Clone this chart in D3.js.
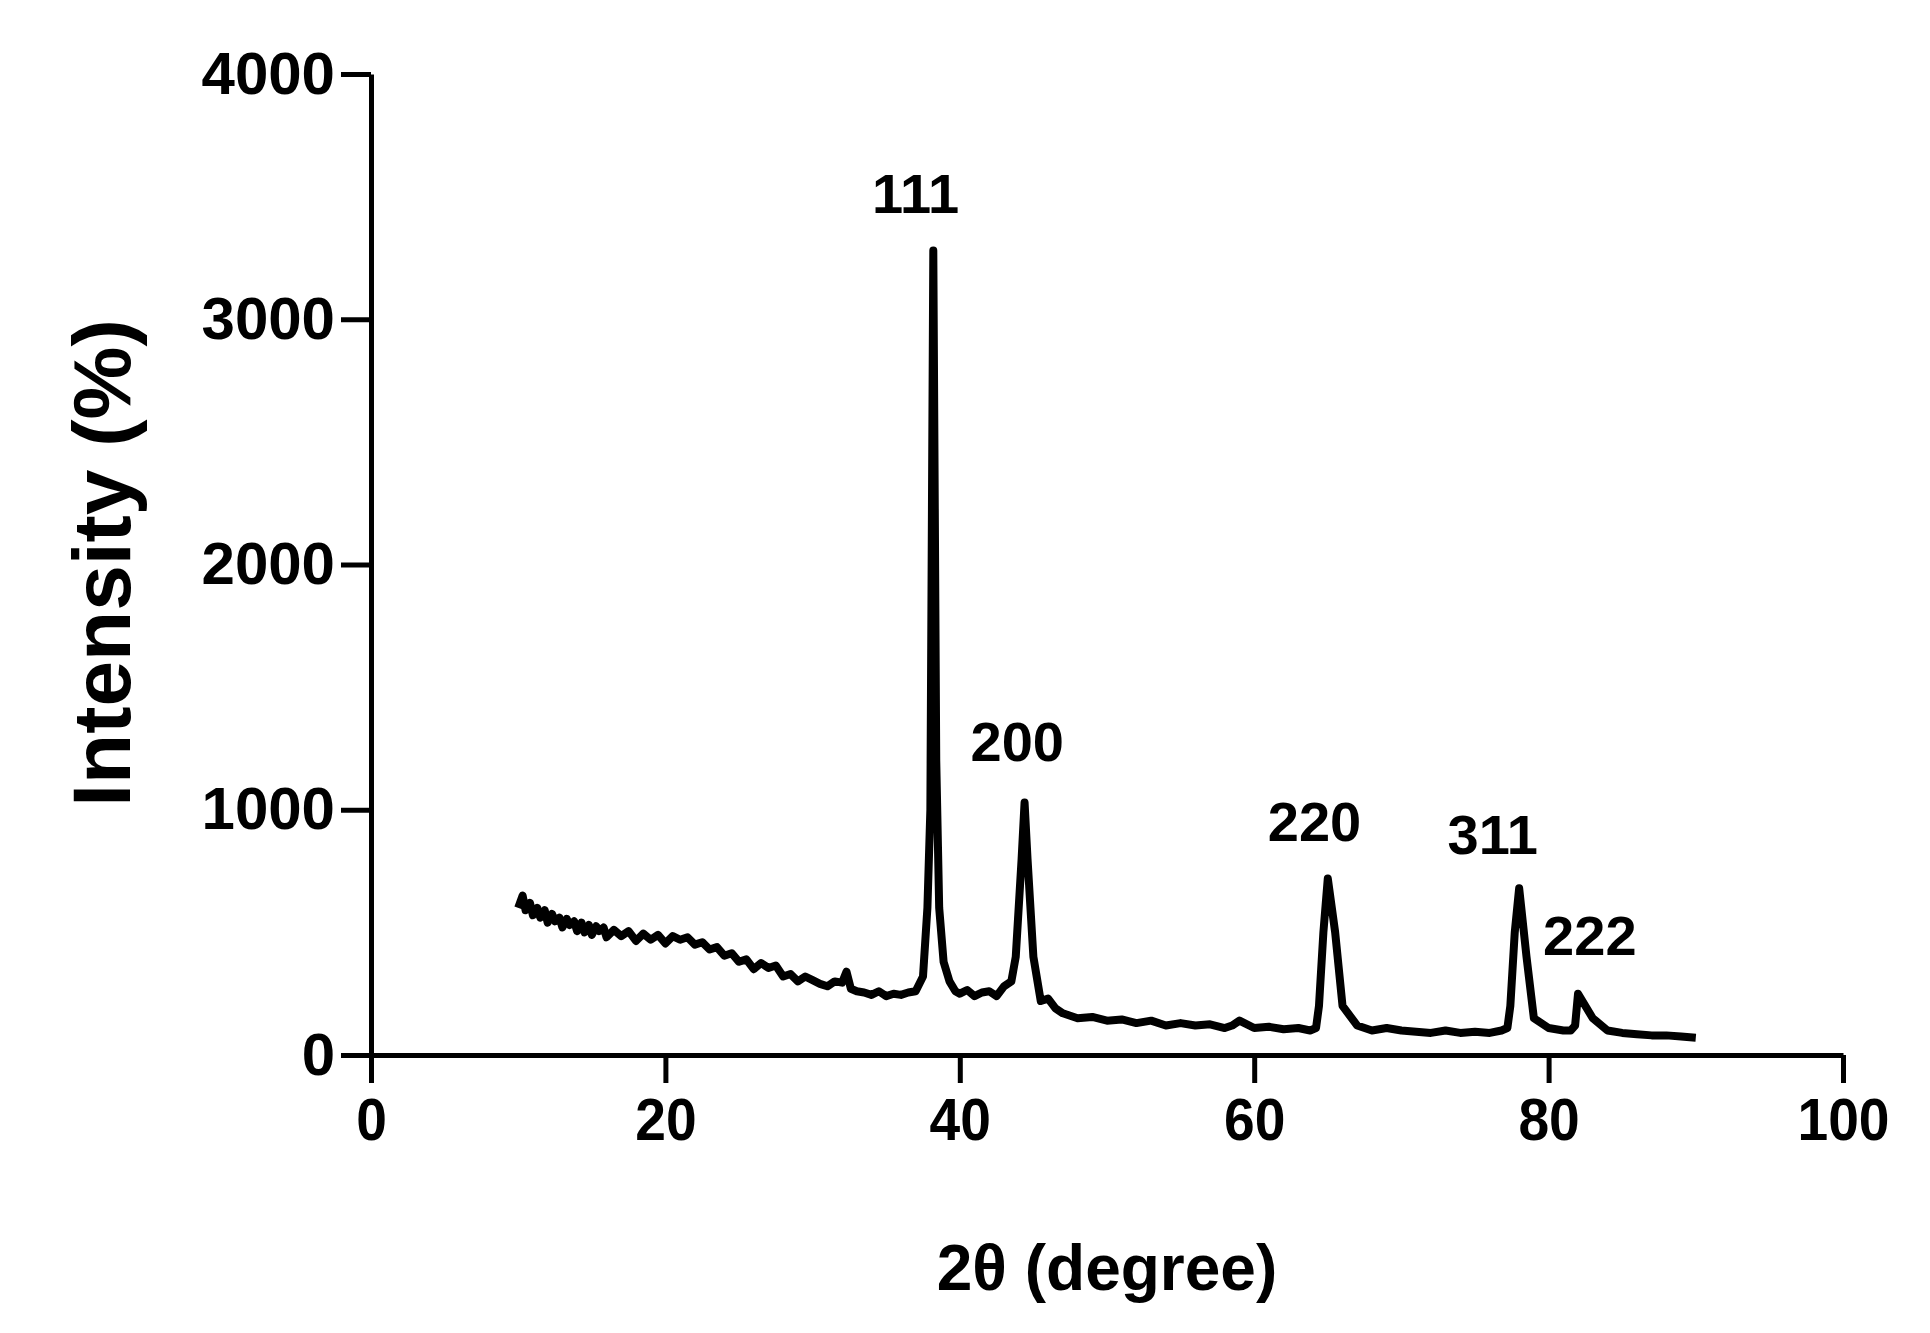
<!DOCTYPE html>
<html>
<head>
<meta charset="utf-8">
<script src="https://cdn.jsdelivr.net/npm/d3@7"></script>
<style>
body { margin: 0; background: #fff; }
text { font-family: "Liberation Sans", Arial, sans-serif; font-weight: bold; fill: #000; }
</style>
</head>
<body>
<script>
// XRD pattern
var twoTheta = [10,10.3,10.5,10.8,11,11.3,11.5,11.8,12,12.3,12.5,12.8,13,13.3,13.5,13.8,14,14.3,14.5,14.8,15,15.3,15.5,15.8,16,16.5,17,17.5,18,18.5,19,19.5,20,20.5,21,21.5,22,22.5,23,23.5,24,24.5,25,25.5,26,26.5,27,27.5,28,28.5,29,29.5,30,30.5,31,31.5,32,32.3,32.6,33,33.5,34,34.5,35,35.5,36,36.5,37,37.5,37.8,38,38.2,38.4,38.6,38.9,39.3,39.7,40,40.5,41,41.5,42,42.5,43,43.5,43.8,44.2,44.4,44.6,45,45.5,46,46.5,47,47.5,48,49,50,51,52,53,54,55,56,57,58,58.5,59,60,61,62,63,63.8,64.2,64.4,64.7,65,65.5,66,67,68,69,70,71,72,73,74,75,76,76.8,77.2,77.4,77.7,78,78.5,79,80,81,81.5,81.8,82,83,84,85,86,87,88,89,90];
var intensity = [600,650,590,620,570,600,560,590,540,575,545,560,520,555,530,545,505,540,500,530,490,525,505,520,480,510,485,505,465,495,470,490,455,485,470,480,450,460,430,440,405,415,380,390,350,375,355,365,320,330,300,320,305,290,280,300,295,340,270,260,255,245,260,240,250,245,255,260,320,600,1000,3280,1200,600,380,300,260,250,265,240,255,260,240,280,300,400,800,1030,800,400,220,230,190,170,160,150,155,140,145,130,140,120,130,120,125,110,120,140,110,115,105,110,100,110,200,500,720,500,200,120,100,110,100,95,90,100,90,95,90,100,110,200,500,680,400,150,110,100,100,120,250,150,100,90,85,80,80,75,70,65];
var peakLabels = ["111","200","220","311","222"];
var peakX = [37.0,43.9,64.1,76.2,82.8];
var peakY = [3433,1199,872,819,408];
var xTicks = [0,20,40,60,80,100];
var yTicks = [0,1000,2000,3000,4000];

var W = 1930, H = 1333;
var svg = d3.select("body").append("svg").attr("width", W).attr("height", H);

var x = d3.scaleLinear().domain([0, 100]).range([371, 1843]);
var y = d3.scaleLinear().domain([0, 4000]).range([1055, 74]);

// axes
svg.append("g")
    .attr("transform", "translate(0,1055)")
    .call(d3.axisBottom(x).tickValues(xTicks).tickFormat(d3.format("d")).tickSize(28).tickPadding(14).tickSizeOuter(0))
    .call(function(g) {
        g.selectAll("line, path").attr("stroke", "#000").attr("stroke-width", 5);
        g.selectAll("text").style("font-size", "60px").attr("transform", "scale(0.92,1)").attr("x", function(d) { return 0; });
    });

svg.append("g")
    .attr("transform", "translate(371,0)")
    .call(d3.axisLeft(y).tickValues(yTicks).tickFormat(d3.format("d")).tickSize(30).tickPadding(6).tickSizeOuter(0))
    .call(function(g) {
        g.selectAll("line, path").attr("stroke", "#000").attr("stroke-width", 5);
        g.selectAll("text").style("font-size", "60px");
    });

// pattern
var line = d3.line()
    .x(function(d, i) { return x(twoTheta[i]); })
    .y(function(d) { return y(d); });

svg.append("path")
    .datum(intensity)
    .attr("fill", "none")
    .attr("stroke", "#000")
    .attr("stroke-width", 8)
    .attr("stroke-linejoin", "round")
    .attr("d", line);

// peak labels
svg.selectAll(".peak")
    .data(peakLabels)
    .enter().append("text")
    .attr("class", "peak")
    .attr("x", function(d, i) { return x(peakX[i]); })
    .attr("y", function(d, i) { return y(peakY[i]); })
    .attr("text-anchor", "middle")
    .style("font-size", "56px")
    .text(function(d) { return d; });

// titles
svg.append("text")
    .attr("x", 1107).attr("y", 1290)
    .attr("text-anchor", "middle")
    .style("font-size", "64px")
    .text("2θ (degree)");

svg.append("text")
    .attr("transform", "translate(130,563) rotate(-90)")
    .attr("text-anchor", "middle")
    .style("font-size", "82px")
    .text("Intensity (%)");
</script>
</body>
</html>
